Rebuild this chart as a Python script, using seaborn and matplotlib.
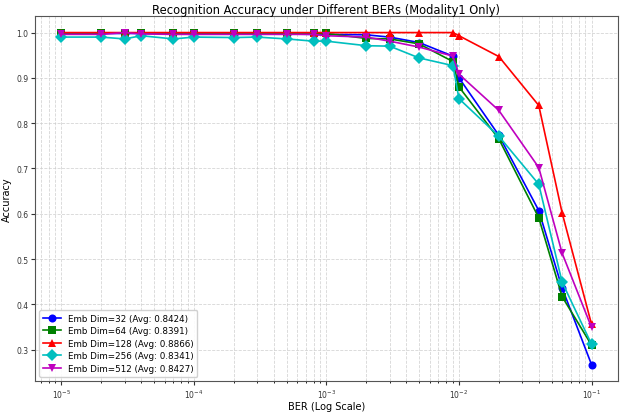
import pandas as pd
import seaborn as sns
import matplotlib
matplotlib.use("Agg")
import matplotlib.pyplot as plt

# BER values (x axis)
ber = [1e-5, 2e-5, 3e-5, 4e-5, 7e-5, 1e-4, 2e-4, 3e-4, 5e-4, 8e-4,
       1e-3, 2e-3, 3e-3, 5e-3, 9e-3, 1e-2, 2e-2, 4e-2, 6e-2, 1e-1]

# accuracy per embedding dimension
acc_32 = [0.998, 0.998, 0.998, 0.998, 0.998, 0.998, 0.997, 0.997, 0.997, 0.996,
          0.996, 0.995, 0.990, 0.978, 0.948, 0.900, 0.773, 0.607, 0.436, 0.267]
acc_64 = [0.999, 0.999, 0.999, 0.999, 0.999, 0.999, 0.998, 0.998, 0.998, 0.998,
          0.998, 0.987, 0.986, 0.975, 0.936, 0.880, 0.765, 0.591, 0.417, 0.310]
acc_128 = [1.000, 1.000, 1.000, 1.000, 1.000, 1.000, 1.000, 1.000, 1.000, 1.000,
           1.000, 1.000, 1.000, 1.000, 1.000, 0.993, 0.947, 0.839, 0.602, 0.356]
acc_256 = [0.990, 0.990, 0.986, 0.993, 0.986, 0.990, 0.989, 0.990, 0.986, 0.981,
           0.981, 0.971, 0.970, 0.944, 0.927, 0.854, 0.771, 0.665, 0.449, 0.312]
acc_512 = [0.996, 0.996, 1.000, 0.997, 0.996, 0.996, 0.996, 0.996, 0.996, 0.996,
           0.993, 0.990, 0.981, 0.968, 0.948, 0.908, 0.828, 0.702, 0.513, 0.349]

labels = ["Emb Dim=32 (Avg: 0.8424)", "Emb Dim=64 (Avg: 0.8391)",
          "Emb Dim=128 (Avg: 0.8866)", "Emb Dim=256 (Avg: 0.8341)",
          "Emb Dim=512 (Avg: 0.8427)"]
series = [acc_32, acc_64, acc_128, acc_256, acc_512]

rows = []
for lab, vals in zip(labels, series):
    for b, a in zip(ber, vals):
        rows.append({"BER": b, "Accuracy": a, "Model": lab})
df = pd.DataFrame(rows)

colors = dict(zip(labels, ["blue", "green", "red", "c", "m"]))
marks = dict(zip(labels, ["o", "s", "^", "D", "v"]))

fig, ax = plt.subplots(figsize=(6.23, 4.14), dpi=100)
sns.lineplot(data=df, x="BER", y="Accuracy", hue="Model", style="Model",
             palette=colors, markers=marks, dashes=False, markersize=5.8,
             markeredgewidth=0, linewidth=1.2, ax=ax)
ax.set_xscale("log")
ax.grid(True, which="both", ls="--", lw=0.6, color="#cccccc", alpha=0.8)
for s in ax.spines.values():
    s.set_color("#555555")

ax.set_title("Recognition Accuracy under Different BERs (Modality1 Only)", fontsize=8.3, pad=2.5)
ax.set_xlabel("BER (Log Scale)", fontsize=7, labelpad=1)
ax.set_ylabel("Accuracy", fontsize=7, labelpad=3)
ax.tick_params(labelsize=5.5, length=3, pad=1.5, colors="#333333")
ax.tick_params(which="minor", length=1.5)
ax.legend(loc="lower left", fontsize=6.3, framealpha=0.9, handlelength=2,
          borderpad=0.45, labelspacing=0.4)

plt.subplots_adjust(left=0.056, right=0.992, top=0.959, bottom=0.077)
plt.savefig("out.png")
